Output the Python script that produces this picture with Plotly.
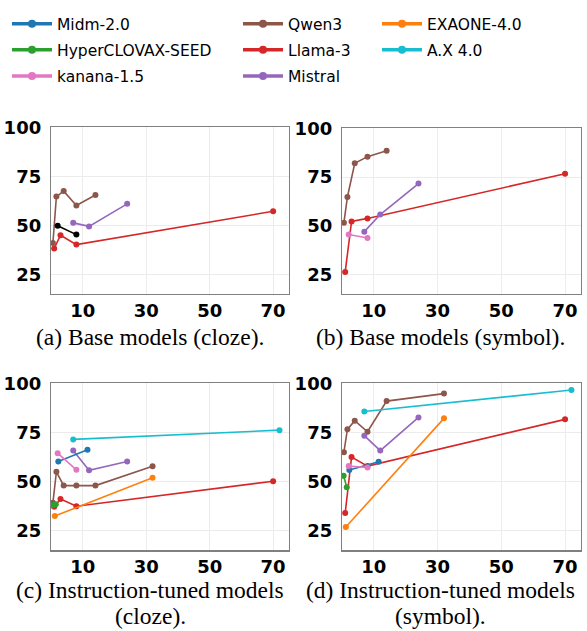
import plotly.graph_objects as go

W, H = 587, 631

# ---- data -------------------------------------------------------------
colors = {"Midm-2.0": "#1f77b4", "HyperCLOVAX-SEED": "#2ca02c",
          "kanana-1.5": "#e377c2", "Qwen3": "#8c564b", "Llama-3": "#d62728",
          "Mistral": "#9467bd", "EXAONE-4.0": "#ff7f0e", "A.X 4.0": "#17becf"}

sizes_midm = [2.3, 11.5]
sizes_hcx = [0.5, 1.5]
sizes_kanana = [2.1, 8]
sizes_qwen = [0.6, 1.7, 4, 8, 14, 32]
sizes_llama = [1, 3, 8, 70]
sizes_mistral = [7, 12, 24]
sizes_exaone = [1.2, 32]
sizes_ax = [7, 72]

# (a) base, cloze
a_qwen = [41.0, 64.7, 67.5, 60.2, 65.5, None]
a_llama = [38.2, 45.0, 40.2, 57.2]
a_mistral = [51.3, 49.5, 61.0]
a_kanana = [49.8, 45.3]          # drawn in black in the original

# (b) base, symbol
b_qwen = [51.6, 64.8, 82.1, 85.5, 88.5, None]
b_llama = [26.3, 52.2, 53.8, 76.7]
b_mistral = [47.0, 55.8, 71.7]
b_kanana = [45.5, 43.7]

# (c) instruction-tuned, cloze
c_midm = [60.3, 66.2]
c_hcx = [38.0, 38.5]
c_kanana = [64.5, 56.0]
c_qwen = [39.2, 55.0, 48.0, 48.0, 48.0, 57.8]
c_llama = [37.2, 41.2, 37.5, 50.2]
c_mistral = [65.8, 55.8, 60.3]
c_exaone = [32.5, 52.0]
c_ax = [71.5, 76.2]

# (d) instruction-tuned, symbol
d_midm = [55.9, 60.1]
d_hcx = [53.0, 47.1]
d_kanana = [57.9, 57.2]
d_qwen = [65.0, 76.6, 81.0, 75.4, 91.0, 94.8]
d_llama = [34.0, 62.5, 57.9, 81.7]
d_mistral = [73.4, 65.8, 82.7]
d_exaone = [26.9, 82.2]
d_ax = [85.7, 96.6]

x_ticks = [10, 30, 50, 70]
y_ticks = [25, 50, 75, 100]
captions = [["(a) Base models (cloze)."], ["(b) Base models (symbol)."],
            ["(c) Instruction-tuned models", "(cloze)."],
            ["(d) Instruction-tuned models", "(symbol)."]]

panels = [
    [("Qwen3", sizes_qwen, a_qwen, None), ("Llama-3", sizes_llama, a_llama, None),
     ("Mistral", sizes_mistral, a_mistral, None), ("kanana-1.5", sizes_kanana, a_kanana, "black")],
    [("Qwen3", sizes_qwen, b_qwen, None), ("Llama-3", sizes_llama, b_llama, None),
     ("Mistral", sizes_mistral, b_mistral, None), ("kanana-1.5", sizes_kanana, b_kanana, None)],
    [("Qwen3", sizes_qwen, c_qwen, None), ("Llama-3", sizes_llama, c_llama, None),
     ("Mistral", sizes_mistral, c_mistral, None), ("EXAONE-4.0", sizes_exaone, c_exaone, None),
     ("A.X 4.0", sizes_ax, c_ax, None), ("Midm-2.0", sizes_midm, c_midm, None),
     ("HyperCLOVAX-SEED", sizes_hcx, c_hcx, None), ("kanana-1.5", sizes_kanana, c_kanana, None)],
    [("Qwen3", sizes_qwen, d_qwen, None), ("Llama-3", sizes_llama, d_llama, None),
     ("Mistral", sizes_mistral, d_mistral, None), ("EXAONE-4.0", sizes_exaone, d_exaone, None),
     ("A.X 4.0", sizes_ax, d_ax, None), ("Midm-2.0", sizes_midm, d_midm, None),
     ("HyperCLOVAX-SEED", sizes_hcx, d_hcx, None), ("kanana-1.5", sizes_kanana, d_kanana, None)],
]

# ---- layout geometry (pixels) ----------------------------------------
xdom_px = [(51, 289), (342, 581), (51, 289), (342, 581)]
ydom_px = [(118.5, 288), (119.5, 288), (379, 549), (379, 549)]
cap_x_px = [150, 440, 150, 440]
cap_y_px = [[332], [332], [589.5, 616], [589.5, 616]]

fig = go.Figure()
layout = dict(width=W, height=H, margin=dict(l=0, r=0, t=0, b=0),
              paper_bgcolor="white", plot_bgcolor="white", showlegend=True)
annotations = []

for i, traces in enumerate(panels):
    n = "" if i == 0 else str(i + 1)
    xa, ya = "x" + n, "y" + n
    for name, xs, ys, override in traces:
        col = override or colors[name]
        fig.add_trace(go.Scatter(
            x=xs, y=ys, mode="lines+markers", name=name, showlegend=False,
            line=dict(color=col, width=1.6), marker=dict(color=col, size=6),
            xaxis=xa, yaxis=ya, connectgaps=False, hoverinfo="skip"))
    x0, x1 = xdom_px[i]
    y0, y1 = ydom_px[i]
    common = dict(showline=True, mirror=True, linecolor="#808080", linewidth=1.2,
                  showgrid=True, gridcolor="#ececec", gridwidth=1, zeroline=False,
                  tickfont=dict(family="DejaVu Sans", size=18, color="black", weight="bold"))
    layout["xaxis" + n] = dict(domain=[x0 / W, x1 / W], range=[0, 75], ticks="",
                               tickvals=x_ticks, anchor=ya, **common)
    layout["yaxis" + n] = dict(domain=[1 - y1 / H, 1 - y0 / H], range=[15, 100],
                               ticks="outside", ticklen=5, tickcolor="rgba(0,0,0,0)",
                               tickvals=y_ticks, anchor=xa, **common)
    for line, cy in zip(captions[i], cap_y_px[i]):
        annotations.append(dict(text=line, xref="paper", yref="paper",
                                x=cap_x_px[i] / W, y=1 - cy / H, xanchor="center",
                                yanchor="middle", showarrow=False,
                                font=dict(family="Liberation Serif", size=23.5, color="black")))

# ---- legends (three columns) -----------------------------------------
legend_cols = [["Midm-2.0", "HyperCLOVAX-SEED", "kanana-1.5"],
               ["Qwen3", "Llama-3", "Mistral"],
               ["EXAONE-4.0", "A.X 4.0"]]
legend_x_px = [7, 238, 377]
for j, col_models in enumerate(legend_cols):
    lname = "legend" if j == 0 else "legend" + str(j + 1)
    for m in col_models:
        fig.add_trace(go.Scatter(x=[None], y=[None], mode="lines+markers", name=m,
                                 line=dict(color=colors[m], width=3.5),
                                 marker=dict(color=colors[m], size=8),
                                 legend=lname, legendgroup=m, showlegend=True))
    layout[lname] = dict(x=legend_x_px[j] / W, y=1 + 4 / H, xanchor="left", yanchor="top",
                         bgcolor="rgba(0,0,0,0)", tracegroupgap=3, itemwidth=40,
                         font=dict(family="DejaVu Sans", size=15.5, color="black"))

layout["annotations"] = annotations
fig.update_layout(**layout)
fig.write_html("out.html", config={"displayModeBar": False, "staticPlot": True},
               post_script="document.body.style.margin='0px';"
                           "document.body.style.overflow='hidden';")
